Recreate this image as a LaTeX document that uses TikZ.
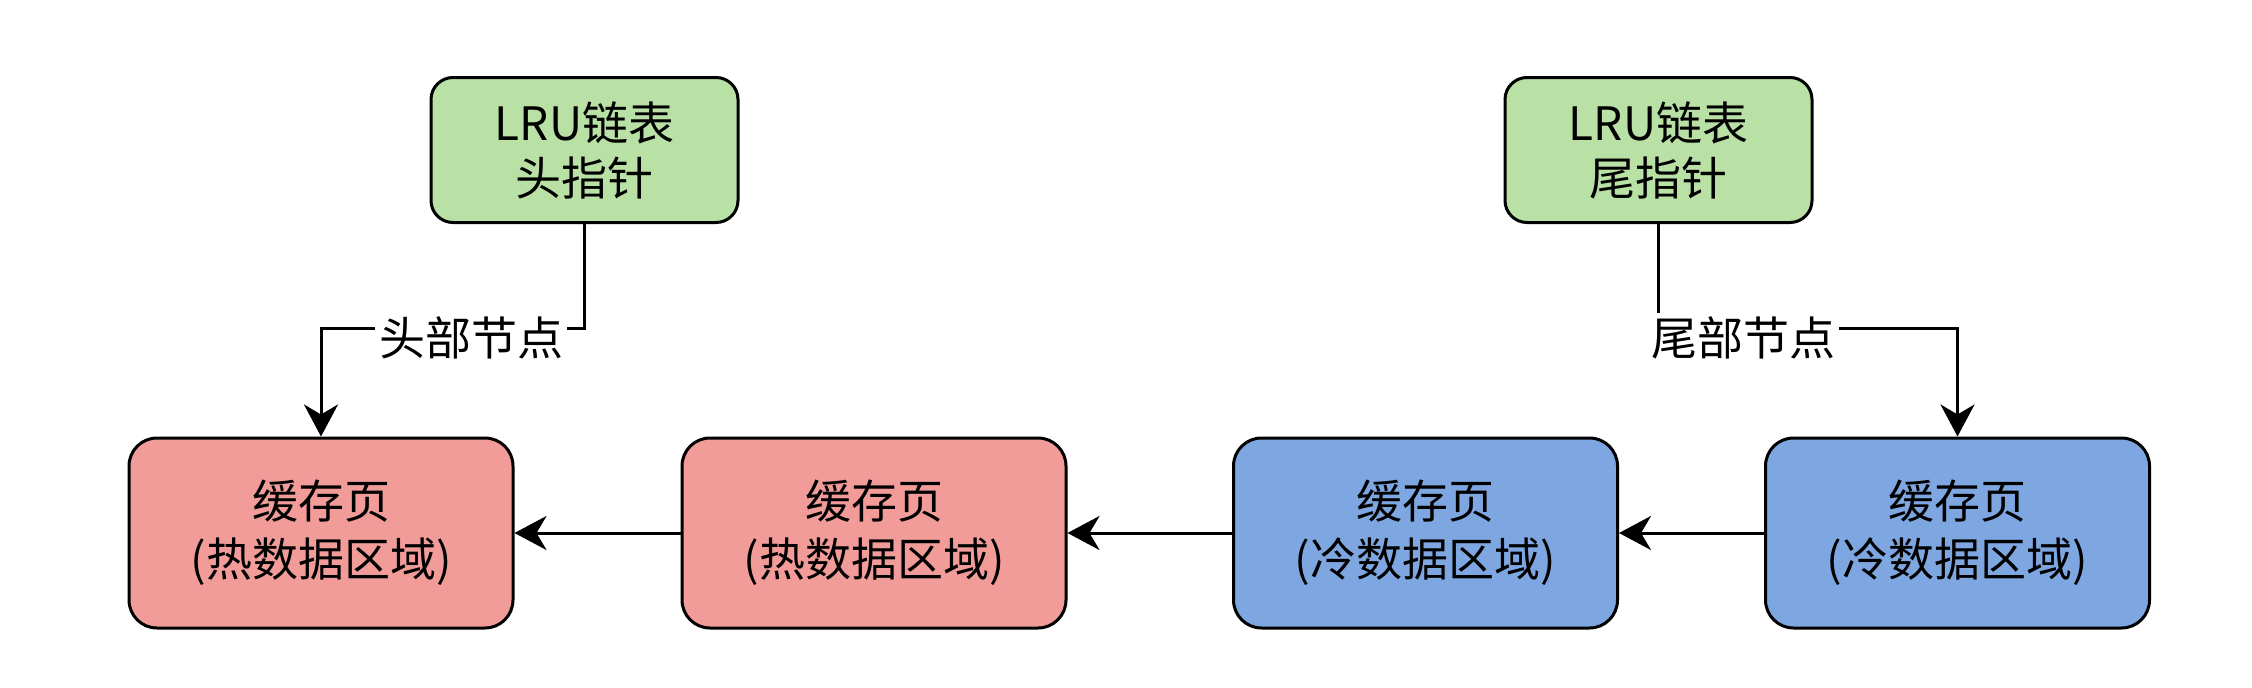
\documentclass[tikz,border=0pt]{standalone}
\usepackage{fontspec}
\setmainfont{Noto Sans CJK SC}
\usetikzlibrary{arrows.meta}
\definecolor{gfill}{HTML}{B9E0A5}
\definecolor{rfill}{HTML}{F19C99}
\definecolor{bfill}{HTML}{7EA6E0}
\tikzset{
  ptrbox/.style={draw=black, line width=3pt, fill=gfill, rounded corners=22pt,
    minimum width=307pt, minimum height=145pt, align=center, inner sep=0pt,
    font=\fontsize{46pt}{55pt}\selectfont},
  pagebox/.style={draw=black, line width=3pt, rounded corners=28pt,
    minimum width=384pt, minimum height=190pt, align=center, inner sep=0pt,
    font=\fontsize{46pt}{58pt}\selectfont},
  conn/.style={line width=3pt, -{Stealth[length=32pt,width=34pt,inset=10pt]}},
  lbl/.style={fill=white, inner sep=4pt, font=\fontsize{46pt}{55pt}\selectfont}
}
\begin{document}
\begin{tikzpicture}[x=1pt,y=1pt]
\useasboundingbox (0,0) rectangle (2252,-688);
\node[ptrbox] (g1) at (584.5,-150) {LRU链表\\头指针};
\node[ptrbox] (g2) at (1658.5,-150) {LRU链表\\尾指针};
\node[pagebox, fill=rfill] (r1) at (321,-533) {缓存页\\(热数据区域)};
\node[pagebox, fill=rfill] (r2) at (874,-533) {缓存页\\(热数据区域)};
\node[pagebox, fill=bfill] (b1) at (1425.5,-533) {缓存页\\(冷数据区域)};
\node[pagebox, fill=bfill] (b2) at (1957.5,-533) {缓存页\\(冷数据区域)};
\coordinate (j1) at (471,-328);
\coordinate (j2) at (1743,-328);
\draw[conn] (g1.south) |- (j1) -| (r1.north);
\draw[conn] (g2.south) |- (j2) -| (b2.north);
\node[lbl] (l1) at (471,-338) {头部节点};
\node[lbl] (l2) at (1743,-338) {尾部节点};
\draw[conn] (r2.west) -- (r1.east);
\draw[conn] (b1.west) -- (r2.east);
\draw[conn] (b2.west) -- (b1.east);
\end{tikzpicture}
\end{document}
